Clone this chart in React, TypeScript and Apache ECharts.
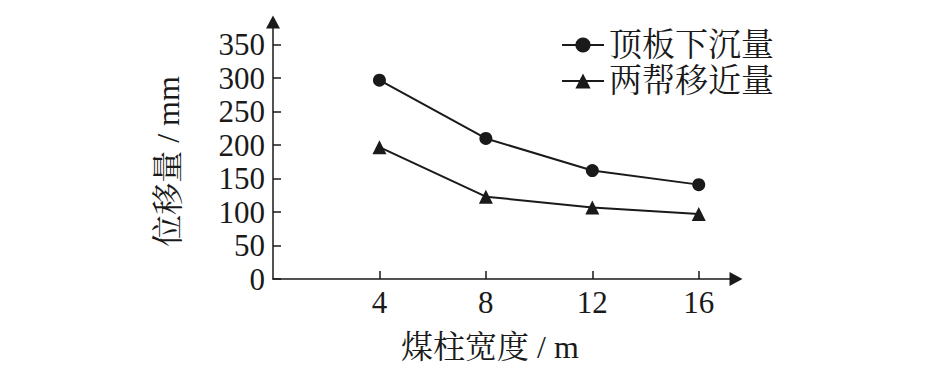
import React, { useEffect, useRef } from "react";
import * as echarts from "echarts";

const widths = [4, 8, 12, 16];
const roofSubsidence = [297, 210, 162, 141];
const ribConvergence = [197, 123, 107, 97];
const yTickValues = [0, 50, 100, 150, 200, 250, 300, 350];
const xTickValues = [4, 8, 12, 16];
const seriesNames = ["顶板下沉量", "两帮移近量"];
const xName = "煤柱宽度 / m";
const yName = "位移量 / mm";

const FONT = '"Liberation Serif", "Noto Serif CJK SC", "Noto Sans CJK SC", serif';
const INK = "#1a1a1a";

export default function App() {
  const ref = useRef<HTMLDivElement>(null);
  useEffect(() => {
    if (!ref.current) return;
    const chart = echarts.init(ref.current, null, { renderer: "svg" });
    const axisCommon = {
      axisLine: {
        show: true,
        lineStyle: { color: INK, width: 1.5 },
        symbol: ["none", "triangle"],
        symbolSize: [14, 13],
      },
      splitLine: { show: false },
    };
    chart.setOption({
      animation: false,
      backgroundColor: "#ffffff",
      grid: { left: 273, right: 209, top: 22, bottom: 111, containLabel: false },
      legend: {
        orient: "vertical",
        left: 561,
        top: 27,
        padding: 0,
        itemGap: 0,
        itemWidth: 42,
        itemHeight: 19,
        textStyle: { fontFamily: FONT, fontSize: 33, lineHeight: 36, color: INK },
        data: seriesNames,
      },
      xAxis: {
        type: "value",
        min: 0,
        max: 17.4,
        ...axisCommon,
        name: xName,
        nameLocation: "middle",
        nameGap: 52,
        nameTextStyle: { fontFamily: FONT, fontSize: 32, color: INK, padding: [0, 29, 0, 0] },
        axisTick: { show: true, inside: true, length: 8, lineStyle: { color: INK, width: 1.5 }, customValues: xTickValues },
        axisLabel: { fontFamily: FONT, fontSize: 31, color: INK, margin: 8, customValues: xTickValues },
      },
      yAxis: {
        type: "value",
        min: 0,
        max: 384,
        ...axisCommon,
        name: yName,
        nameLocation: "middle",
        nameRotate: 90,
        nameGap: 89,
        nameTextStyle: { fontFamily: FONT, fontSize: 32, color: INK, padding: [0, 22, 0, 0] },
        axisTick: { show: true, inside: true, length: 8, lineStyle: { color: INK, width: 1.5 }, customValues: yTickValues },
        axisLabel: { fontFamily: FONT, fontSize: 31, color: INK, margin: 8, customValues: yTickValues },
      },
      series: [
        {
          name: seriesNames[0],
          type: "line",
          data: widths.map((w, i) => [w, roofSubsidence[i]]),
          symbol: "circle",
          symbolSize: 13,
          lineStyle: { color: INK, width: 2 },
          itemStyle: { color: INK },
        },
        {
          name: seriesNames[1],
          type: "line",
          data: widths.map((w, i) => [w, ribConvergence[i]]),
          symbol: "triangle",
          symbolSize: 14,
          lineStyle: { color: INK, width: 2 },
          itemStyle: { color: INK },
        },
      ],
    });
    return () => chart.dispose();
  }, []);
  return (
    <div
      ref={ref}
      style={{ position: "fixed", left: 0, top: 0, width: 945, height: 390, background: "#fff" }}
    />
  );
}
